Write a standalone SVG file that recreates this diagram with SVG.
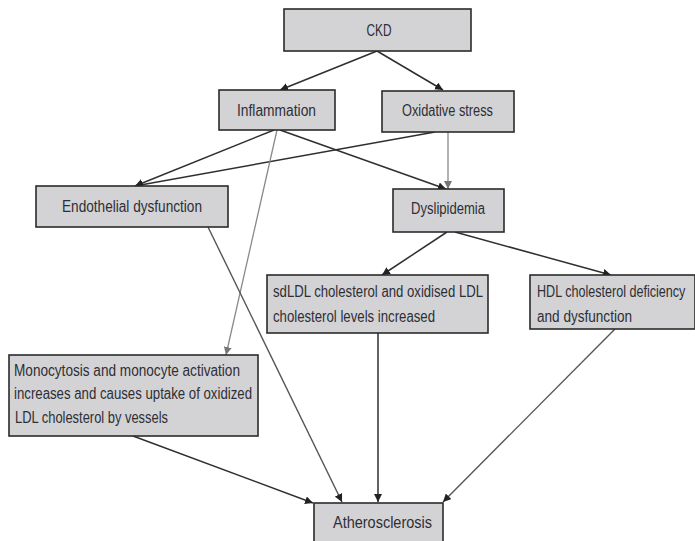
<svg xmlns="http://www.w3.org/2000/svg" width="695" height="541" viewBox="0 0 695 541">
<defs>
<style>
.box{fill:#d3d3d5;stroke:#2b2b2b;stroke-width:1.6}
.t{font-family:"Liberation Sans",Arial,sans-serif;font-size:16px;fill:#2e2e35}
.c{stroke:#2f2f2f;stroke-width:1.5;fill:none;marker-end:url(#ah)}
.g{stroke:#8a8a8a;stroke-width:1.3;fill:none;marker-end:url(#ahg)}
.m{stroke:#555;stroke-width:1.4;fill:none;marker-end:url(#ah)}
</style>
<marker id="ah" viewBox="0 0 10 10" refX="10" refY="5" markerWidth="8" markerHeight="8" markerUnits="userSpaceOnUse" orient="auto">
<path d="M0,0 L10,5 L0,10 z" fill="#222"/>
</marker>
<marker id="ahg" viewBox="0 0 10 10" refX="10" refY="5" markerWidth="8" markerHeight="8" markerUnits="userSpaceOnUse" orient="auto">
<path d="M0,0 L10,5 L0,10 z" fill="#777"/>
</marker>
</defs>
<rect width="695" height="541" fill="#fff"/>
<g id="connectors">
<line class="c" x1="377" y1="51" x2="280" y2="90"/>
<line class="c" x1="377" y1="51" x2="443" y2="90"/>
<line class="c" x1="274" y1="130" x2="135" y2="186"/>
<line class="c" x1="435" y1="132" x2="135" y2="186"/>
<line class="c" x1="280" y1="130" x2="446" y2="189"/>
<line class="g" x1="448" y1="132" x2="448" y2="189"/>
<line class="g" x1="277" y1="130" x2="226" y2="355"/>
<line class="m" x1="208" y1="227" x2="342" y2="502"/>
<line class="c" x1="447" y1="232" x2="382" y2="275"/>
<line class="c" x1="455" y1="232" x2="611" y2="275"/>
<line class="c" x1="378" y1="333" x2="378" y2="502"/>
<line class="m" x1="615" y1="329" x2="443" y2="502"/>
<line class="c" x1="133" y1="436" x2="313" y2="503"/>
</g>
<g id="ckd"><rect class="box" x="284" y="9" width="187" height="42"/><text class="t" x="379" y="36" text-anchor="middle" textLength="25" lengthAdjust="spacingAndGlyphs">CKD</text></g>
<g id="inflammation"><rect class="box" x="219" y="90" width="116" height="40"/><text class="t" x="237" y="116" textLength="79" lengthAdjust="spacingAndGlyphs">Inflammation</text></g>
<g id="oxidative"><rect class="box" x="382" y="91" width="132" height="41"/><text class="t" x="402" y="116" textLength="91" lengthAdjust="spacingAndGlyphs">Oxidative stress</text></g>
<g id="endothelial"><rect class="box" x="36" y="186" width="192" height="41"/><text class="t" x="62" y="212" textLength="140" lengthAdjust="spacingAndGlyphs">Endothelial dysfunction</text></g>
<g id="dyslipidemia"><rect class="box" x="393" y="189" width="111" height="43"/><text class="t" x="411" y="214" textLength="74" lengthAdjust="spacingAndGlyphs">Dyslipidemia</text></g>
<g id="sdldl"><rect class="box" x="267" y="275" width="221" height="58"/><text class="t" x="273" y="297" textLength="210" lengthAdjust="spacingAndGlyphs">sdLDL cholesterol and oxidised LDL</text><text class="t" x="273" y="322" textLength="162" lengthAdjust="spacingAndGlyphs">cholesterol levels increased</text></g>
<g id="hdl"><rect class="box" x="530" y="275" width="165" height="54"/><text class="t" transform="translate(537,297) scale(0.787,1)">HDL cholesterol deficiency</text><text class="t" x="537" y="322" textLength="95" lengthAdjust="spacingAndGlyphs">and dysfunction</text></g>
<g id="monocytosis"><rect class="box" x="9" y="355" width="249" height="81"/><text class="t" x="14" y="376" textLength="226" lengthAdjust="spacingAndGlyphs">Monocytosis and monocyte activation</text><text class="t" x="14" y="399" textLength="238" lengthAdjust="spacingAndGlyphs">increases and causes uptake of oxidized</text><text class="t" x="15" y="423" textLength="153" lengthAdjust="spacingAndGlyphs">LDL cholesterol by vessels</text></g>
<g id="atherosclerosis"><rect class="box" x="314" y="503" width="129" height="44"/><text class="t" x="333" y="528" textLength="99" lengthAdjust="spacingAndGlyphs">Atherosclerosis</text></g>
</svg>
